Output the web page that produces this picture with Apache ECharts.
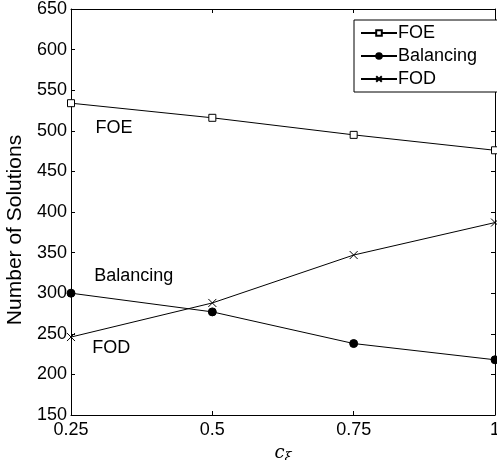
<!DOCTYPE html>
<html><head><meta charset="utf-8">
<script src="https://cdn.jsdelivr.net/npm/echarts@6/dist/echarts.min.js"></script>
<style>html,body{margin:0;padding:0;background:#fff}#c{width:497px;height:460px}</style>
</head><body><div id="c"></div>
<script>
const xValues = [0.25, 0.5, 0.75, 1];
const foe = [534, 516, 495, 476];
const balancing = [300, 277, 238, 218];
const fod = [246, 288, 347, 387];
const seriesNames = ['FOE', 'Balancing', 'FOD'];
const annotations = [
  {name: 'FOE', x: 0.326, y: 503},
  {name: 'Balancing', x: 0.361, y: 321},
  {name: 'FOD', x: 0.321, y: 233}
];
const font = 'Liberation Sans, Arial, sans-serif';
const pair = (vals) => xValues.map((x, i) => [x, vals[i]]);
const chart = echarts.init(document.getElementById('c'));
const axisCommon = {
  axisLine: {show: true, lineStyle: {color: '#000', width: 1}},
  axisTick: {show: true, inside: true, length: 4, lineStyle: {color: '#000'}},
  splitLine: {show: false}
};
const crossPath = 'path://M0,0L10,10M10,0L0,10';
function mkSeries(name, vals, symbol, size, fill, ann) {
  return {
    name, type: 'line', data: pair(vals), symbol, symbolSize: size,
    xAxisIndex: 0, yAxisIndex: 0,
    lineStyle: {color: '#000', width: 1},
    itemStyle: {color: fill, borderColor: '#000', borderWidth: 1},
    emphasis: {disabled: true}, animation: false,
    markPoint: {
      symbol: 'rect', symbolSize: 1, itemStyle: {color: 'rgba(0,0,0,0)'},
      label: {show: true, position: 'inside', formatter: ann.name, color: '#000', fontSize: 18, fontFamily: font},
      data: [{coord: [ann.x, ann.y]}]
    }
  };
}
chart.setOption({
  animation: false,
  grid: {left: 71, right: 2, top: 9, bottom: 45, containLabel: false, outerBoundsMode: 'none'},
  xAxis: [
    Object.assign({type: 'value', min: 0.25, max: 1, interval: 0.25, position: 'bottom',
      axisLabel: {color: '#000', fontSize: 18, fontFamily: font, margin: 6},
      name: '{c|c}{s|ξ}', nameLocation: 'middle', nameGap: 24,
      nameTextStyle: {rich: {
        c: {fontFamily: 'DejaVu Serif, serif', fontStyle: 'italic', fontSize: 18, color: '#000'},
        s: {fontFamily: 'DejaVu Serif, serif', fontStyle: 'italic', fontSize: 13, color: '#000', padding: [10, 0, 0, 0]}
      }}}, axisCommon),
    Object.assign({type: 'value', min: 0.25, max: 1, interval: 0.25, position: 'top', axisLabel: {show: false}}, axisCommon)
  ],
  yAxis: [
    Object.assign({type: 'value', min: 150, max: 650, interval: 50, position: 'left',
      axisLabel: {color: '#000', fontSize: 18, fontFamily: font, margin: 4},
      name: 'Number of Solutions', nameLocation: 'middle', nameGap: 43,
      nameTextStyle: {color: '#000', fontSize: 21, fontFamily: font, padding: [0, 36, 0, 0]}}, axisCommon),
    Object.assign({type: 'value', min: 150, max: 650, interval: 50, position: 'right', axisLabel: {show: false}}, axisCommon)
  ],
  legend: {
    orient: 'vertical', left: 354, top: 20, data: seriesNames,
    backgroundColor: '#fff', borderColor: '#000', borderWidth: 1, borderRadius: 0,
    padding: [3, 23, 3, 6], itemWidth: 36, itemHeight: 7, itemGap: 3,
    textStyle: {color: '#000', fontSize: 18, fontFamily: font, lineHeight: 20, padding: [0, 0, 0, -4]}
  },
  series: [
    mkSeries('FOE', foe, 'rect', 7, '#fff', annotations[0]),
    mkSeries('Balancing', balancing, 'circle', 8, '#000', annotations[1]),
    mkSeries('FOD', fod, crossPath, 8, 'none', annotations[2])
  ]
});
</script></body></html>
